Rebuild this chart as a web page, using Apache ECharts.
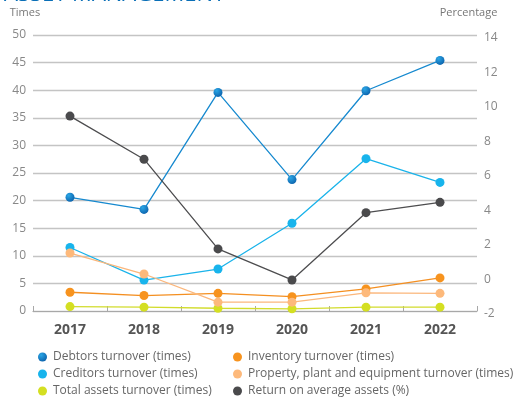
<!DOCTYPE html>
<html>
<head>
<meta charset="utf-8">
<script src="https://cdn.jsdelivr.net/npm/echarts@6/dist/echarts.min.js"></script>
<style>
  html, body { margin: 0; padding: 0; background: #fff; }
  #chart { width: 520px; height: 401px; }
</style>
</head>
<body>
<div id="chart"></div>
<script>
// Asset management ratios, 2017-2022
const years = ['2017', '2018', '2019', '2020', '2021', '2022'];

const debtorsTurnover   = [20.6, 18.4, 39.6, 23.8, 39.9, 45.4];
const creditorsTurnover = [11.5, 5.6, 7.6, 15.9, 27.6, 23.3];
const inventoryTurnover = [3.4, 2.8, 3.2, 2.6, 4.0, 6.0];
const ppeTurnover       = [10.5, 6.7, 1.6, 1.6, 3.3, 3.2];
const totalAssetsTurnover = [0.8, 0.7, 0.5, 0.4, 0.7, 0.7];
const returnOnAssets    = [9.3, 6.8, 1.6, -0.2, 3.7, 4.3];

const leftTicks = { min: 0, max: 50, interval: 5 };
const rightTicks = { min: -2, max: 14, interval: 2 };

const FONT = '"Open Sans", "Noto Sans", sans-serif';

const chart = echarts.init(document.getElementById('chart'), null, { renderer: 'canvas' });

function dot(light, dark) {
  return new echarts.graphic.RadialGradient(0.35, 0.3, 0.8, [
    { offset: 0, color: light },
    { offset: 1, color: dark }
  ]);
}

function lineSeries(name, data, color, markerColor, yAxisIndex) {
  return {
    name: name,
    type: 'line',
    data: data,
    yAxisIndex: yAxisIndex || 0,
    symbol: 'circle',
    symbolSize: 9,
    showSymbol: true,
    lineStyle: { width: 1.3, color: color },
    itemStyle: { color: markerColor || color, borderWidth: 0 },
    emphasis: { disabled: true },
    z: 3
  };
}

function legendColumn(left, names) {
  return {
    orient: 'vertical',
    left: left,
    top: 346,
    height: 80,
    itemWidth: 9,
    itemHeight: 9,
    itemGap: 5,
    icon: 'circle',
    selectedMode: false,
    textStyle: { color: '#666', fontSize: 12, fontFamily: FONT, padding: [0, 0, 0, 1] },
    data: names
  };
}

const option = {
  animation: false,
  backgroundColor: '#ffffff',
  title: {
    text: 'ASSET MANAGEMENT',
    left: -1,
    top: -21,
    textStyle: { color: '#0a6fb7', fontSize: 22, fontWeight: 'normal', fontFamily: FONT }
  },
  grid: { left: 33, right: 43, top: 35, bottom: 90 },
  legend: [
    legendColumn(33, ['Debtors turnover (times)', 'Creditors turnover (times)', 'Total assets turnover (times)']),
    legendColumn(228, ['Inventory turnover (times)', 'Property, plant and equipment turnover (times)', 'Return on average assets (%)'])
  ],
  xAxis: {
    type: 'category',
    data: years,
    boundaryGap: true,
    axisLine: { lineStyle: { color: '#a8a8a8', width: 1.2 } },
    axisTick: { show: true, inside: true, length: 5, lineStyle: { color: '#a8a8a8' } },
    axisLabel: { color: '#555', fontSize: 14, fontWeight: 'bold', fontFamily: FONT, margin: 12 }
  },
  yAxis: [
    {
      type: 'value',
      min: leftTicks.min,
      max: leftTicks.max,
      interval: leftTicks.interval,
      name: 'Times',
      nameLocation: 'end',
      nameGap: 17,
      nameTextStyle: { color: '#777', fontSize: 11, fontFamily: FONT, align: 'center', padding: [0, 16, 0, 0] },
      axisLine: { show: false },
      axisTick: { show: false },
      axisLabel: { color: '#888', fontSize: 12, fontFamily: FONT, margin: 7 },
      splitLine: { lineStyle: { color: '#c4c4c4', width: 1.3 } }
    },
    {
      type: 'value',
      position: 'right',
      min: rightTicks.min,
      max: rightTicks.max,
      interval: rightTicks.interval,
      name: 'Percentage',
      nameLocation: 'end',
      nameGap: 17,
      nameTextStyle: { color: '#777', fontSize: 11, fontFamily: FONT, align: 'center', padding: [0, 17, 0, 0] },
      axisLine: { show: false },
      axisTick: { show: false },
      axisLabel: { color: '#888', fontSize: 12, fontFamily: FONT, margin: 7, verticalAlign: 'top', padding: [-3, 0, 0, 0] },
      splitLine: { show: false }
    }
  ],
  series: [
    lineSeries('Debtors turnover (times)', debtorsTurnover, '#1689cf', dot('#2aa6e6', '#0a5ea8')),
    lineSeries('Creditors turnover (times)', creditorsTurnover, '#1ab3ea', '#18b4ec'),
    lineSeries('Total assets turnover (times)', totalAssetsTurnover, '#d2dc2c', '#d4df22'),
    lineSeries('Inventory turnover (times)', inventoryTurnover, '#f48f21', '#f7931e'),
    lineSeries('Property, plant and equipment turnover (times)', ppeTurnover, '#fbb77c', '#fdb97b'),
    lineSeries('Return on average assets (%)', returnOnAssets, '#4d4d4f', '#4a4a4c', 1)
  ]
};

chart.setOption(option);
</script>
</body>
</html>
